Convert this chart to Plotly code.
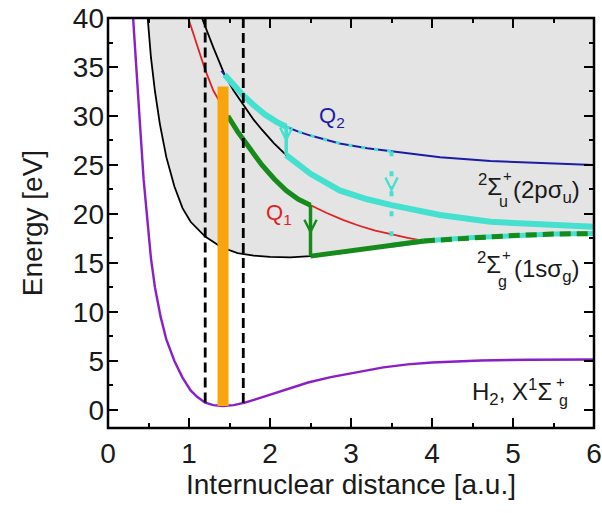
import numpy as np
import plotly.graph_objects as go

# ---------------- data ----------------
# H2 ground state X1Sigma_g+
h2_r = [0.31, 0.36, 0.40, 0.44, 0.48, 0.53, 0.58, 0.65, 0.72, 0.82, 0.92, 1.02, 1.10, 1.20,
        1.30, 1.42, 1.55, 1.69, 1.85, 2.06, 2.25, 2.47, 2.75, 3.09, 3.40, 3.70, 4.00, 4.60,
        5.20, 6.00]
h2_e = [40.0, 33.0, 28.5, 23.5, 20.0, 15.5, 12.5, 9.5, 7.2, 5.0, 3.3, 2.0, 1.35, 0.75,
        0.50, 0.40, 0.50, 0.75, 1.15, 1.70, 2.20, 2.80, 3.35, 3.90, 4.35, 4.65, 4.85, 5.05,
        5.13, 5.15]

# H2+ 2Sigma_g+(1s sigma_g)
sg_r = [0.49, 0.53, 0.58, 0.64, 0.72, 0.82, 0.92, 1.02, 1.20, 1.40, 1.60, 1.80, 2.00, 2.25,
        2.50, 3.00, 3.50, 3.90, 4.50, 5.00, 5.50, 6.00]
sg_e = [40.0, 36.0, 32.5, 29.2, 25.8, 22.8, 20.6, 19.2, 17.7, 16.6, 16.0, 15.75, 15.62, 15.58,
        15.70, 16.25, 16.80, 17.25, 17.60, 17.80, 17.95, 18.00]

# H2+ 2Sigma_u+(2p sigma_u)
su_r = [1.16, 1.23, 1.30, 1.37, 1.44, 1.55, 1.67, 1.80, 1.90, 2.05, 2.20, 2.50, 2.86, 3.20,
        3.50, 4.10, 4.72, 5.33, 6.00]
su_e = [40.0, 38.4, 37.0, 35.6, 34.2, 32.6, 31.1, 29.6, 28.6, 27.2, 26.0, 24.1, 22.4, 21.5,
        20.9, 19.9, 19.2, 18.9, 18.7]

# Q1 doubly excited state
q1_r = [0.99, 1.10, 1.20, 1.30, 1.40, 1.48, 1.60, 1.75, 1.90, 2.05, 2.20, 2.35, 2.50, 2.70,
        2.90, 3.10, 3.30, 3.50, 3.70, 3.90]
q1_e = [40.0, 37.2, 34.7, 32.6, 31.1, 30.0, 28.4, 26.7, 25.0, 23.6, 22.4, 21.5, 20.9, 20.1,
        19.4, 18.8, 18.3, 17.9, 17.55, 17.25]

# Q2 doubly excited state
q2_r = [1.40, 1.44, 1.55, 1.67, 1.80, 1.93, 2.08, 2.20, 2.35, 2.50, 2.86, 3.20, 3.50, 4.10,
        4.72, 5.30, 6.00]
q2_e = [34.6, 34.2, 33.1, 32.1, 31.1, 30.2, 29.4, 28.9, 28.4, 28.0, 27.2, 26.7, 26.4, 25.8,
        25.4, 25.2, 25.0]

# Franck-Condon excitation bar and region
fc_center = 1.42
fc_top = 33.0
fc_bounds = [1.20, 1.67]

# Transition points (R) and arrow-head positions (E)
q2_jump_r = 2.20
q2_jump_head = 27.3
q1_jump_r = 2.50
q1_jump_head = 17.9
q2_diss_r = 3.50
q2_diss_head = 22.2
q1_merge_r = 3.90
q2_start_r = 1.44
q1_start_r = 1.48

x_ticks = [0, 1, 2, 3, 4, 5, 6]
y_ticks = [0, 5, 10, 15, 20, 25, 30, 35, 40]
x_range = [0, 6]
y_range = [-1.84, 40]

# ---------------- colours ----------------
C_PURPLE = "#8a1fc8"
C_RED = "#e0231f"
C_BLUE = "#1c1ca6"
C_CYAN = "#45e0cf"
C_GREEN = "#168a1a"
C_ORANGE = "#f7a40d"
C_GRAY = "#e4e4e4"
FONT = "Liberation Sans, Arial, Helvetica, sans-serif"
TXT = "#1a1a1a"


def seg(xs, ys, lo, hi):
    xs = np.asarray(xs, float)
    ys = np.asarray(ys, float)
    m = (xs >= lo - 1e-9) & (xs <= hi + 1e-9)
    return xs[m], ys[m]


def interp(x, xs, ys):
    return float(np.interp(x, xs, ys))


fig = go.Figure()


def line(x, y, color, width, dash=None):
    fig.add_trace(go.Scatter(x=list(x), y=list(y), mode="lines",
                             line=dict(color=color, width=width, dash=dash),
                             hoverinfo="skip", showlegend=False))


# gray region above 1s sigma_g
fig.add_trace(go.Scatter(x=sg_r, y=[y_range[1]] * len(sg_r), mode="lines",
                         line=dict(width=0, color=C_GRAY), showlegend=False, hoverinfo="skip"))
fig.add_trace(go.Scatter(x=sg_r, y=sg_e, mode="lines", fill="tonexty", fillcolor=C_GRAY,
                         line=dict(width=0, color=C_GRAY), showlegend=False, hoverinfo="skip"))

# black potential curves
line(sg_r, sg_e, "black", 1.8)
line(su_r, su_e, "black", 1.8)

# H2 ground state
line(h2_r, h2_e, C_PURPLE, 2.4)

# Q1 (red)
line(q1_r, q1_e, C_RED, 1.8)

# Q2 (blue)
line(q2_r, q2_e, C_BLUE, 2.0)
x, y = seg(q2_r, q2_e, q2_jump_r, q2_diss_r)
line(x, y, C_CYAN, 3, dash="4px,9px")

# cyan path: Q2 -> jump -> 2p sigma_u
x, y = seg(q2_r, q2_e, q2_start_r, q2_jump_r)
line(x, y, C_CYAN, 6)
x, y = seg(su_r, su_e, q2_jump_r, 6.0)
line(x, y, C_CYAN, 6)
line([q2_jump_r, q2_jump_r], [interp(q2_jump_r, q2_r, q2_e), interp(q2_jump_r, su_r, su_e)],
     C_CYAN, 3.5)

# cyan dotted dissociation from Q2 to 1s sigma_g
line([q2_diss_r, q2_diss_r], [interp(q2_diss_r, q2_r, q2_e), interp(q2_diss_r, sg_r, sg_e)],
     C_CYAN, 4, dash="5px,15px")
x, y = seg(sg_r, sg_e, q2_diss_r, 6.0)
line(x, y, C_CYAN, 5)

# green path: Q1 -> jump -> 1s sigma_g
x, y = seg(q1_r, q1_e, q1_start_r, q1_jump_r)
line(x, y, C_GREEN, 5)
line([q1_jump_r, q1_jump_r], [interp(q1_jump_r, q1_r, q1_e), interp(q1_jump_r, sg_r, sg_e)],
     C_GREEN, 3.5)
x, y = seg(sg_r, sg_e, q1_jump_r, q1_merge_r)
line(x, y, C_GREEN, 5)
x, y = seg(sg_r, sg_e, q1_merge_r, 6.0)
line(x, y, C_GREEN, 5, dash="11px,6px")

# Franck-Condon region boundaries
for xb in fc_bounds:
    line([xb, xb], [interp(xb, h2_r, h2_e), y_range[1]], "black", 2.8, dash="10px,5px")

# excitation bar
line([fc_center, fc_center], [interp(fc_center, h2_r, h2_e), fc_top], C_ORANGE, 11)

# empty trace so the mirrored (top / right) tick axes are drawn
fig.add_trace(go.Scatter(x=[None], y=[None], xaxis="x2", yaxis="y2", mode="lines",
                         showlegend=False, hoverinfo="skip"))

# arrow heads
arrows = [
    (q2_jump_r, interp(q2_jump_r, q2_r, q2_e), q2_jump_head, C_CYAN),
    (q1_jump_r, interp(q1_jump_r, q1_r, q1_e), q1_jump_head, C_GREEN),
    (q2_diss_r, q2_diss_head + 0.8, q2_diss_head, C_CYAN),
]
annotations = []
for xr, tail, tip, col in arrows:
    annotations.append(dict(x=xr, y=tip, ax=xr, ay=tail, xref="x", yref="y", axref="x",
                            ayref="y", text="", showarrow=True, arrowhead=5, arrowsize=0.8,
                            arrowwidth=3, arrowcolor=col))


def label(text, x, y, size, color=TXT, xanchor="left", yanchor="middle"):
    annotations.append(dict(x=x, y=y, xref="x", yref="y", text=text, showarrow=False,
                            xanchor=xanchor, yanchor=yanchor, borderpad=0,
                            font=dict(family=FONT, size=size, color=color)))


label("Q<sub>2</sub>", 2.59, 29.9, 22, C_BLUE)
label("Q<sub>1</sub>", 1.94, 20.0, 22, C_RED)

# 2Sigma_u+(2p sigma_u)
label("<sup>2</sup>Σ", 4.875, 23.0, 24, xanchor="right")
label("+", 4.86, 23.9, 15)
label("u", 4.81, 21.3, 16)
label("(2pσ<sub>u</sub>)", 4.985, 22.25, 24)

# 2Sigma_g+(1s sigma_g)
label("<sup>2</sup>Σ", 4.862, 15.0, 24, xanchor="right")
label("+", 4.85, 15.9, 15)
label("g", 4.80, 13.1, 16)
label("(1sσ<sub>g</sub>)", 5.0, 14.25, 24)

# H2, X1Sigma_g+
label("H<sub>2</sub>, X<sup>1</sup>Σ", 5.49, 1.8, 24, xanchor="right")
label("+", 5.52, 2.9, 15)
label("g", 5.55, 1.0, 16)

tick_font = dict(family=FONT, size=28, color=TXT)
axis_common = dict(showline=False, ticks="inside", ticklen=10, tickwidth=2, tickcolor="black",
                   showgrid=False, zeroline=False, automargin=False, tickfont=tick_font)
x_minor = dict(dtick=0.5, tick0=0, ticks="inside", ticklen=5, tickwidth=2, tickcolor="black")
y_minor = dict(dtick=2.5, tick0=0, ticks="inside", ticklen=5, tickwidth=2, tickcolor="black")

fig.update_layout(
    width=602, height=513,
    margin=dict(l=108, r=8, t=18, b=85),
    paper_bgcolor="white", plot_bgcolor="white",
    showlegend=False,
    annotations=annotations,
    shapes=[dict(type="rect", xref="paper", yref="paper", x0=0, x1=1, y0=0, y1=1,
                 line=dict(color="black", width=2.5), layer="above")],
    xaxis=dict(range=x_range, tickvals=x_ticks, minor=x_minor, ticklabelstandoff=6,
               **axis_common,
               title=dict(text="Internuclear distance [a.u.]",
                          font=dict(family=FONT, size=28, color=TXT), standoff=6)),
    yaxis=dict(range=y_range, tickvals=y_ticks, minor=y_minor, ticklabelstandoff=3,
               **axis_common,
               title=dict(text="Energy [eV]",
                          font=dict(family=FONT, size=28, color=TXT), standoff=22)),
    xaxis2=dict(range=x_range, tickvals=x_ticks, minor=x_minor, overlaying="x", side="top",
                anchor="y2", showticklabels=False, **axis_common),
    yaxis2=dict(range=y_range, tickvals=y_ticks, minor=y_minor, overlaying="y", side="right",
                anchor="x2", showticklabels=False, **axis_common),
)

fig.write_html("out.html", config={"displayModeBar": False},
               post_script="document.body.style.margin='0px';")
